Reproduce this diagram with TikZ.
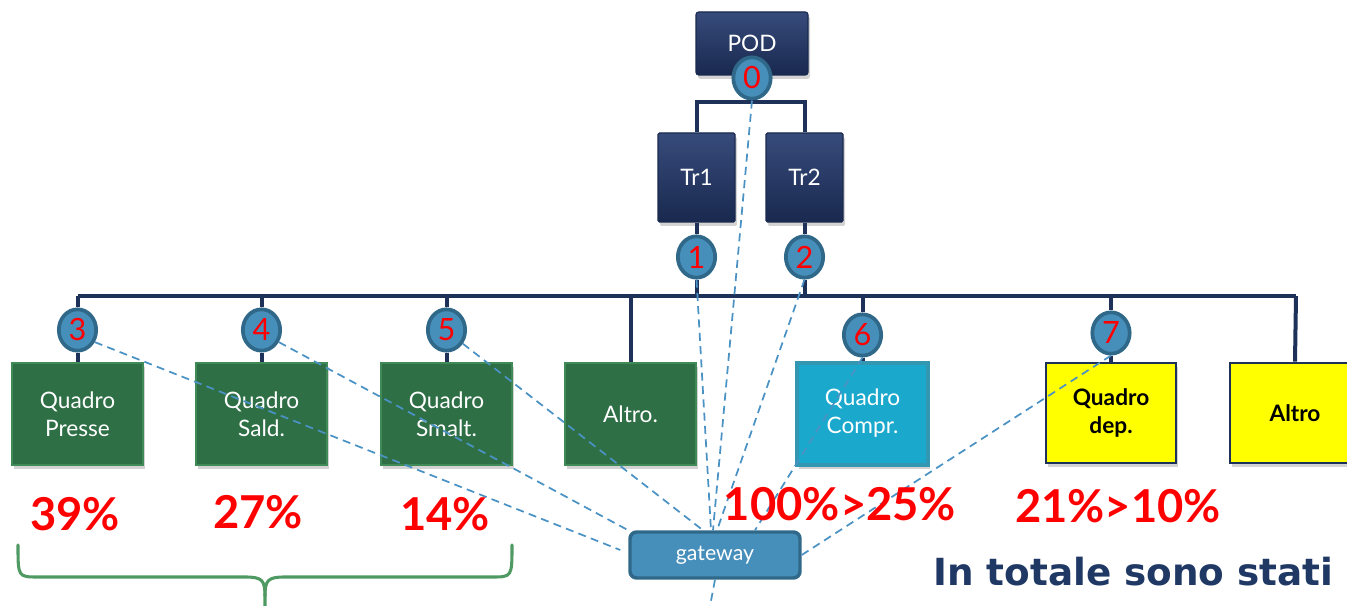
\documentclass[tikz,border=0pt]{standalone}
\usepackage{fontspec}
\setmainfont{Lato}
\newfontfamily\headfont{DejaVu Sans}
\usetikzlibrary{shapes.geometric,shadows,calc}

\definecolor{navy}{HTML}{1E3259}
\definecolor{navyTop}{HTML}{374B7B}
\definecolor{navyBot}{HTML}{19294F}
\definecolor{badgeF}{HTML}{478FBB}
\definecolor{badgeB}{HTML}{2F6888}
\definecolor{qgreen}{HTML}{2F6F46}
\definecolor{qgreenB}{HTML}{3F8A56}
\definecolor{qcyan}{HTML}{1AA8CC}
\definecolor{qcyanB}{HTML}{3497B2}
\definecolor{qyellow}{HTML}{FFFF00}
\definecolor{linkblue}{HTML}{4A92C4}
\definecolor{bracegreen}{HTML}{4F9A62}
\definecolor{headblue}{HTML}{1F3864}
\definecolor{pctred}{HTML}{FF0000}

\begin{document}
\begin{tikzpicture}[x=0.75pt,y=-0.75pt,
  bus/.style={navy, line width=3pt},
  boxshadow/.style={drop shadow={opacity=0.35, shadow xshift=1.5pt, shadow yshift=-3pt}},
  navybox/.style={rectangle, rounded corners=2pt, top color=navyTop, bottom color=navyBot,
    draw=navyBot, line width=0.8pt, text=white, font=\fontsize{17}{20}\selectfont, boxshadow},
  qbox/.style={rectangle, minimum width=98.25pt, minimum height=76.5pt, align=center,
    line width=2pt, font=\fontsize{17}{21}\selectfont, boxshadow},
  greenbox/.style={qbox, fill=qgreen, draw=qgreenB, text=white},
  cyanbox/.style={qbox, fill=qcyan, draw=qcyanB, text=white, line width=3pt},
  yellowbox/.style={qbox, fill=qyellow, draw=navy, text=black, line width=2.2pt,
    font=\bfseries\fontsize{17}{21}\selectfont},
  badge/.style={ellipse, fill=badgeF, draw=badgeB, line width=2.8pt, minimum width=28pt,
    minimum height=31pt, inner sep=0pt, text=pctred, font=\fontsize{23}{23}\selectfont},
  link/.style={linkblue, line width=1.3pt, dash pattern=on 6pt off 4pt},
  pct/.style={text=pctred, anchor=base, font=\bfseries\fontsize{34}{36}\selectfont},
  brace/.style={bracegreen, line width=2.3pt, line cap=round, line join=round}]

\useasboundingbox (0,0) rectangle (1347,606);

% ---- upper part: supply point and transformers
\node[navybox, minimum width=84pt, minimum height=47.25pt] (pod) at (752,43.5) {POD};
\node[navybox, rounded corners=1pt, minimum width=57.75pt, minimum height=66.75pt] (tr1) at (696.5,177.5) {Tr1};
\node[navybox, rounded corners=1pt, minimum width=57.75pt, minimum height=66.75pt] (tr2) at (804.5,177.5) {Tr2};

\coordinate (j0) at (752,102);
\coordinate (busL) at (77,296);
\coordinate (busR) at (1296,296);

% ---- distribution boards
\node[greenbox] (presse) at (77.5,414) {Quadro\\Presse};
\node[greenbox] (sald) at (261.5,414) {Quadro\\Sald.};
\node[greenbox] (smalt) at (446.5,414) {Quadro\\Smalt.};
\node[greenbox] (altroA) at (630.5,414) {Altro.};
\node[cyanbox, minimum width=98.25pt] (compr) at (862.5,413.5) {Quadro\\Compr.};
\node[yellowbox, minimum width=97.5pt, minimum height=75pt] (dep) at (1111,413) {Quadro\\dep.};
\node[yellowbox, minimum width=97.5pt, minimum height=75pt] (altroB) at (1295,413) {Altro};

% ---- measuring points
\node[badge] (b0) at (752,78) {0};
\node[badge] (b1) at (696.5,257) {1};
\node[badge] (b2) at (804.5,257) {2};
\node[badge] (b3) at (77.5,330) {3};
\node[badge] (b4) at (261.5,330) {4};
\node[badge] (b5) at (446.5,330) {5};
\node[badge] (b6) at (862.5,335) {6};
\node[badge] (b7) at (1111,333) {7};

% ---- wiring
\draw[bus] (b0.south) -- (j0);
\draw[bus] (tr1.north) -- (tr1.north |- j0) -- (tr2.north |- j0) -- (tr2.north);
\draw[bus] (tr1.south) -- (b1.north);
\draw[bus] (tr2.south) -- (b2.north);
\draw[bus] (b1.south) -- (b1.south |- busL);
\draw[bus] (b2.south) -- (b2.south |- busL);
\draw[bus] (b3.north |- busL) -- (busR);
\draw[bus] (busR) -- (altroB.north);
\foreach \b/\q in {b3/presse, b4/sald, b5/smalt, b6/compr, b7/dep}{
  \draw[bus] (\b.north |- busL) -- (\b.north);
  \draw[bus] (\b.south) -- (\q.north);
}
\draw[bus] (altroA.north |- busL) -- (altroA.north);

% ---- gateway and data links
\node[rectangle, rounded corners=5pt, fill=badgeF, draw=badgeB, line width=2.6pt,
  minimum width=127.5pt, minimum height=34.5pt, text=white,
  font=\fontsize{16}{18}\selectfont] (gw) at (715,555) {gateway};
\coordinate (gwDown) at (710,606);

\draw[link] (b0.south) -- ($(gw.north)+(-2,0)$);
\draw[link] (b1.south) -- ($(gw.north)+(-4,0)$);
\draw[link] (b2.south) -- ($(gw.north)+(2,0)$);
\draw[link] (b3.-35) -- ($(gw.west)+(-8,-5)$);
\draw[link] (b4.-35) -- (gw.north west);
\draw[link] (b5.-40) -- ($(gw.north)+(-12,0)$);
\draw[link] (b6.south) -- ($(gw.north)+(40,0)$);
\draw[link] (b7.south) -- (gw.east);
\draw[link] (gw.south) -- (gwDown);

% ---- percentages
\node[pct] (p3) at (75,530) {39\%};
\node[pct] (p4) at (258,528) {27\%};
\node[pct] (p5) at (445,530) {14\%};
\node[pct] (p6) at (840,520) {100\%>25\%};
\node[pct] (p7) at (1118,522) {21\%>10\%};

% ---- brace under the first three boards
\draw[brace] (18,545) .. controls (18,577) and (18,577) .. (38,577) -- (245,577)
  .. controls (262,577) and (265,580) .. (265,596) -- (265,606);
\draw[brace] (512,545) .. controls (512,577) and (512,577) .. (492,577) -- (285,577)
  .. controls (268,577) and (265,580) .. (265,596);

% ---- caption
\node[anchor=base west, inner sep=0pt, text=headblue,
  font=\headfont\bfseries\fontsize{28}{30}\selectfont] (cap) at (933,585) {In totale sono stati};

\end{tikzpicture}
\end{document}
